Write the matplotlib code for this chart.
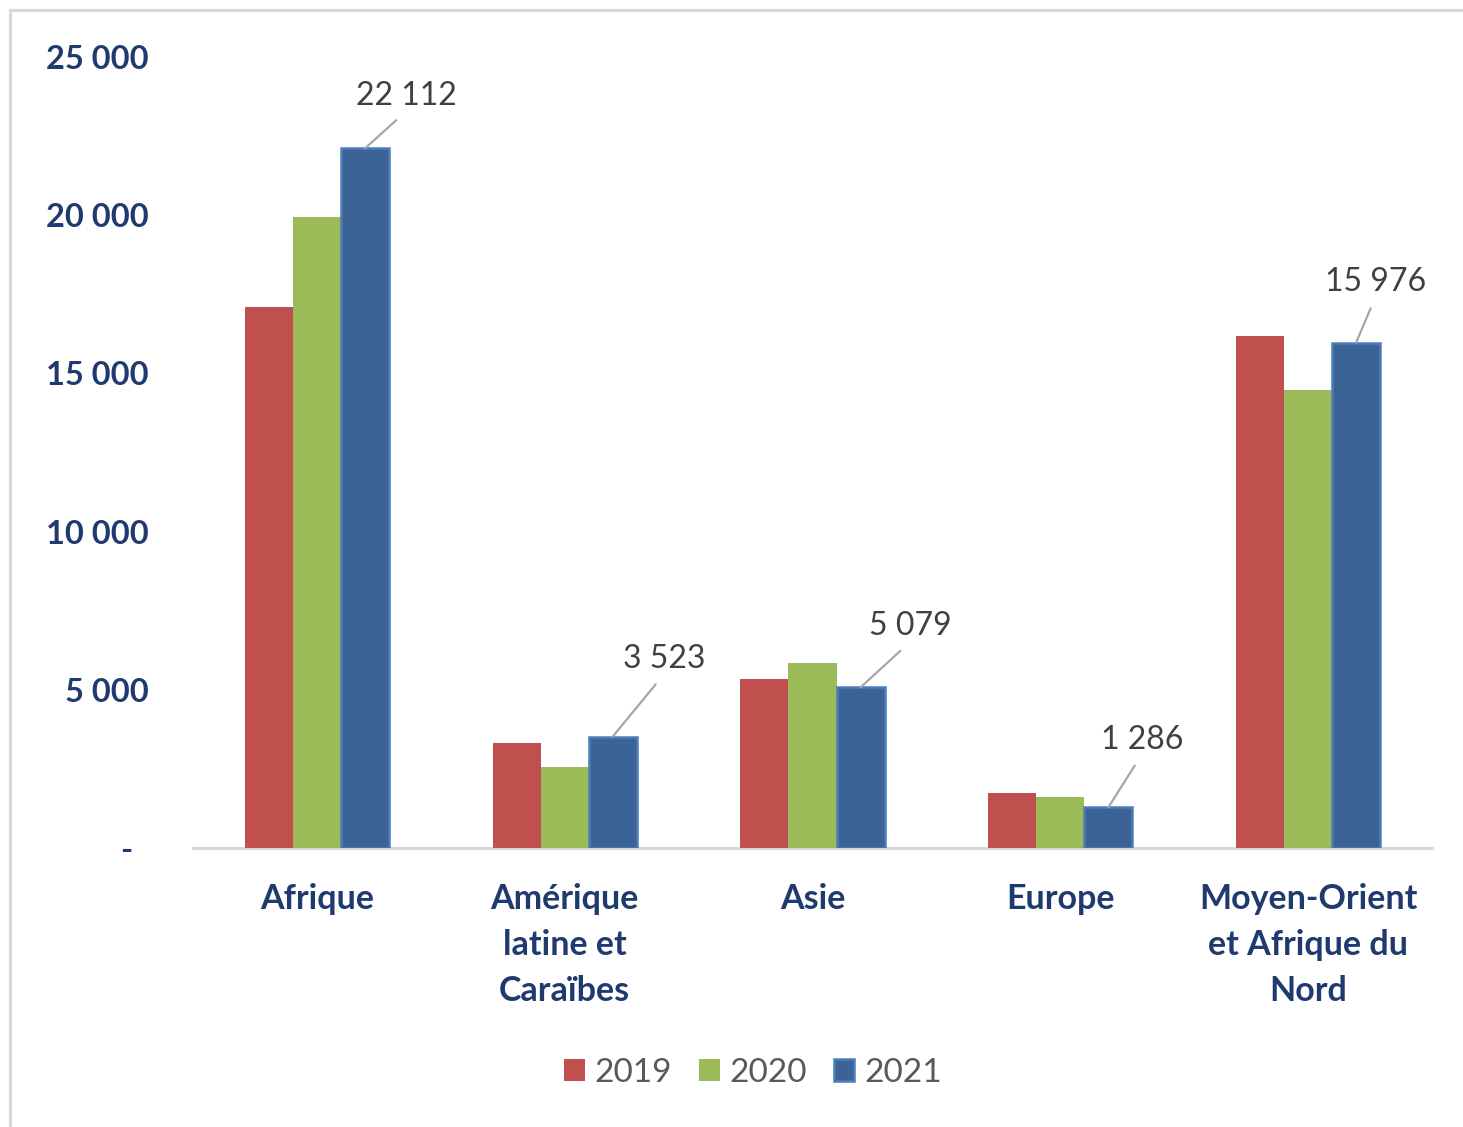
import matplotlib
matplotlib.use("Agg")
import matplotlib.pyplot as plt
from matplotlib.ticker import FuncFormatter
from matplotlib.lines import Line2D
import numpy as np

categories = ["Afrique", "Amérique\nlatine et\nCaraïbes", "Asie", "Europe",
              "Moyen-Orient\net Afrique du\nNord"]
years = ["2019", "2020", "2021"]
values_2019 = [17100, 3330, 5340, 1740, 16180]
values_2020 = [19950, 2560, 5850, 1610, 14480]
values_2021 = [22112, 3523, 5079, 1286, 15976]
yticks = [0, 5000, 10000, 15000, 20000, 25000]

colors = ["#C0504D", "#9BBB59", "#3B6396"]
edge_2021 = "#4A7EBB"
tick_color = "#1F3A6E"
label_gray = "#404040"
# label offsets (points) for the 2021 data labels, relative to bar top
label_offsets = [(30, 27), (37, 45), (36, 33), (24, 38), (14, 33)]

plt.rcParams['font.family'] = ['Lato', 'DejaVu Sans']

fig = plt.figure(figsize=(14.63, 11.27), dpi=100)
ax = fig.add_axes([193/1463, 1-848/1127, (1432-193)/1463, (848-57)/1127])

x = np.arange(len(categories))
w = 0.194
series = [values_2019, values_2020, values_2021]
for i, (vals, c, yr) in enumerate(zip(series, colors, years)):
    if i == 2:
        ax.bar(x + (i-1)*w, vals, w, color=c, edgecolor=edge_2021, linewidth=1.8, label=yr, zorder=3)
    else:
        ax.bar(x + (i-1)*w, vals, w, color=c, linewidth=0, label=yr, zorder=3)

for xi, v, off in zip(x, values_2021, label_offsets):
    txt = f"{v:,}".replace(",", " ")
    ax.annotate(txt, xy=(xi + w, v), xytext=off, textcoords='offset points',
                ha='center', va='bottom', fontsize=23, color=label_gray,
                arrowprops=dict(arrowstyle='-', color='#A6A6A6', lw=1.6,
                                relpos=(0.5, 0), shrinkA=7, shrinkB=0))

ax.set_xlim(-0.5, len(categories)-0.5)
ax.set_ylim(0, 25000)
ax.set_yticks(yticks)
ax.yaxis.set_major_formatter(FuncFormatter(
    lambda v, p: "-  " if v == 0 else f"{int(v):,}".replace(",", " ")))
ax.set_xticks(x)
ax.set_xticklabels(categories, fontsize=24.5, fontweight='bold', color=tick_color,
                   linespacing=1.53, va='top')
for lab in ax.get_yticklabels():
    lab.set_fontsize(23.5)
    lab.set_fontweight('bold')
    lab.set_color(tick_color)
ax.tick_params(axis='y', length=0, pad=32)
ax.tick_params(axis='x', length=0, pad=25.5)
for s in ['top', 'right', 'left']:
    ax.spines[s].set_visible(False)
ax.spines['bottom'].set_color('#D9D9D9')
ax.spines['bottom'].set_linewidth(2.2)

handles, labels = ax.get_legend_handles_labels()
leg = fig.legend(handles, labels, loc='center', bbox_to_anchor=(753/1463, 1-1073/1127),
                 ncol=3, frameon=False, fontsize=24, handlelength=0.62, handleheight=0.62,
                 handletextpad=0.3, columnspacing=0.8, labelcolor='#595959')

# outer frame
fig.add_artist(Line2D([10/1463, 10/1463], [0, 1-10/1127], color='#D9D9D9', lw=2.2))
fig.add_artist(Line2D([10/1463, 1], [1-10/1127, 1-10/1127], color='#D9D9D9', lw=2.2))

fig.savefig("out.png", dpi=100)
